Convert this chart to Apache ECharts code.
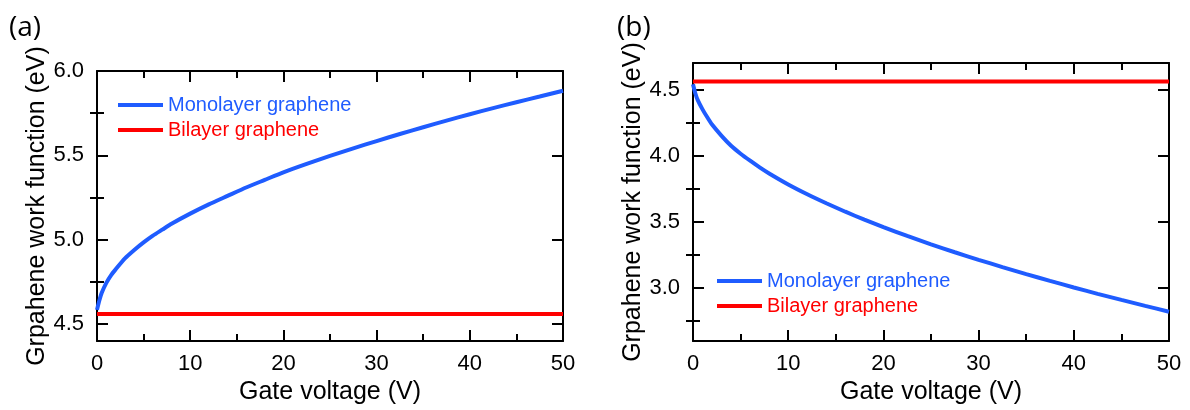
<!DOCTYPE html>
<html>
<head>
<meta charset="utf-8">
<script src="https://cdn.jsdelivr.net/npm/echarts@6/dist/echarts.min.js"></script>
<style>
  html, body { margin: 0; padding: 0; background: #fff; }
  #chart { width: 1190px; height: 410px; }
</style>
</head>
<body>
<div id="chart"></div>
<script>
// ---- data ----
const voltage = [0, 0.25, 0.5, 1, 1.5, 2, 3, 4, 5, 6, 7, 8, 10, 12, 14, 16, 18, 20, 22.5, 25, 27.5, 30, 32.5, 35, 37.5, 40, 42.5, 45, 47.5, 50];
const monoA   = [4.585, 4.64, 4.685, 4.745, 4.79, 4.825, 4.89, 4.94, 4.985, 5.025, 5.06, 5.095, 5.155, 5.21, 5.26, 5.31, 5.355, 5.40, 5.45, 5.497, 5.542, 5.585, 5.627, 5.667, 5.706, 5.744, 5.78, 5.815, 5.849, 5.883];
const monoB   = [4.54, 4.47, 4.42, 4.35, 4.29, 4.235, 4.15, 4.075, 4.015, 3.962, 3.912, 3.866, 3.783, 3.709, 3.641, 3.577, 3.517, 3.461, 3.394, 3.331, 3.271, 3.214, 3.159, 3.106, 3.055, 3.005, 2.957, 2.911, 2.866, 2.822];
const bilayerV = [0, 50];
const bilayerA = [4.56, 4.56];
const bilayerB = [4.56, 4.56];

const yMajorA = [4.5, 5.0, 5.5, 6.0];
const yMinorA = [4.75, 5.25, 5.75];
const yMajorB = [3.0, 3.5, 4.0, 4.5];
const yMinorB = [2.75, 3.25, 3.75, 4.25];

const seriesNames = ['Monolayer graphene', 'Bilayer graphene'];
const panelLabels = ['(a)', '(b)'];
const xName = 'Gate voltage (V)';
const yName = 'Grpahene work function (eV)';

// ---- styling ----
const BLUE = '#1F5CFF';
const RED = '#FF0000';
const FONT = '"Liberation Sans", Arial, sans-serif';

const pairs = (xs, ys) => xs.map((x, i) => [x, ys[i]]);

function xAxes(g) {
  const base = {
    gridIndex: g, type: 'value', min: 0, max: 50, interval: 10,
    axisLine: { show: true, onZero: false, lineStyle: { color: '#000', width: 2 } },
    axisTick: { show: true, inside: true, length: 11, lineStyle: { color: '#000', width: 2 } },
    minorTick: { show: true, splitNumber: 2, length: 7, lineStyle: { color: '#000', width: 2 } },
    splitLine: { show: false }, minorSplitLine: { show: false }
  };
  return [
    Object.assign({}, base, {
      position: 'bottom',
      axisLabel: { fontSize: 22, color: '#000', fontFamily: FONT, margin: 12 },
      name: xName, nameLocation: 'middle', nameGap: 36,
      nameTextStyle: { fontSize: 25, color: '#000', fontFamily: FONT }
    }),
    Object.assign({}, base, { position: 'top', axisLabel: { show: false } })
  ];
}

function yAxes(g, min, max, major, minor) {
  const base = {
    gridIndex: g, type: 'value', min: min, max: max,
    splitLine: { show: false }
  };
  const fmt = v => v.toFixed(1);
  return [
    Object.assign({}, base, {
      position: 'left',
      axisLine: { show: true, onZero: false, lineStyle: { color: '#000', width: 2 } },
      axisTick: { show: true, inside: true, length: 11, customValues: major, lineStyle: { color: '#000', width: 2 } },
      axisLabel: { customValues: major, formatter: fmt, fontSize: 22, color: '#000', fontFamily: FONT, margin: 13 },
      name: yName, nameLocation: 'middle', nameRotate: 90, nameGap: 47,
      nameTextStyle: { fontSize: 25, color: '#000', fontFamily: FONT }
    }),
    Object.assign({}, base, {
      position: 'left',
      axisLine: { show: false },
      axisTick: { show: true, inside: true, length: 7, customValues: minor, lineStyle: { color: '#000', width: 2 } },
      axisLabel: { show: false }
    }),
    Object.assign({}, base, {
      position: 'right',
      axisLine: { show: true, onZero: false, lineStyle: { color: '#000', width: 2 } },
      axisTick: { show: true, inside: true, length: 11, customValues: major, lineStyle: { color: '#000', width: 2 } },
      axisLabel: { show: false }
    }),
    Object.assign({}, base, {
      position: 'right',
      axisLine: { show: false },
      axisTick: { show: true, inside: true, length: 7, customValues: minor, lineStyle: { color: '#000', width: 2 } },
      axisLabel: { show: false }
    })
  ];
}

function lineSeries(name, color, xi, yi, data) {
  return {
    name: name, type: 'line', xAxisIndex: xi, yAxisIndex: yi,
    data: data, showSymbol: false, symbol: 'none', smooth: 0.2,
    lineStyle: { color: color, width: 4 }, itemStyle: { color: color },
    animation: false
  };
}

function legend(left, top) {
  return {
    orient: 'vertical', left: left, top: top, padding: 0,
    icon: 'rect', itemWidth: 45, itemHeight: 4, itemGap: 3,
    textStyle: { fontSize: 20, fontFamily: FONT, lineHeight: 22 },
    data: [
      { name: seriesNames[0], textStyle: { color: BLUE } },
      { name: seriesNames[1], textStyle: { color: RED } }
    ],
    selectedMode: false
  };
}

const titleStyle = { fontSize: 28, fontWeight: 'normal', color: '#000', fontFamily: '"Open Sans", "Noto Sans", sans-serif' };

const option = {
  backgroundColor: '#fff',
  animation: false,
  title: [
    { text: panelLabels[0], left: 4, top: 9, textStyle: titleStyle },
    { text: panelLabels[1], left: 612, top: 9, textStyle: titleStyle }
  ],
  grid: [
    { left: 97, right: 627, top: 71, bottom: 67, containLabel: false },
    { left: 693, right: 21, top: 63, bottom: 67, containLabel: false }
  ],
  legend: [legend(118, 94), legend(717, 270)],
  xAxis: [].concat(xAxes(0), xAxes(1)),
  yAxis: [].concat(yAxes(0, 4.4, 6.0, yMajorA, yMinorA), yAxes(1, 2.6, 4.7, yMajorB, yMinorB)),
  series: [
    lineSeries(seriesNames[0], BLUE, 0, 0, pairs(voltage, monoA)),
    lineSeries(seriesNames[1], RED, 0, 0, pairs(bilayerV, bilayerA)),
    lineSeries(seriesNames[0], BLUE, 2, 4, pairs(voltage, monoB)),
    lineSeries(seriesNames[1], RED, 2, 4, pairs(bilayerV, bilayerB))
  ]
};

const chart = echarts.init(document.getElementById('chart'), null, { renderer: 'canvas' });
chart.setOption(option);
</script>
</body>
</html>
